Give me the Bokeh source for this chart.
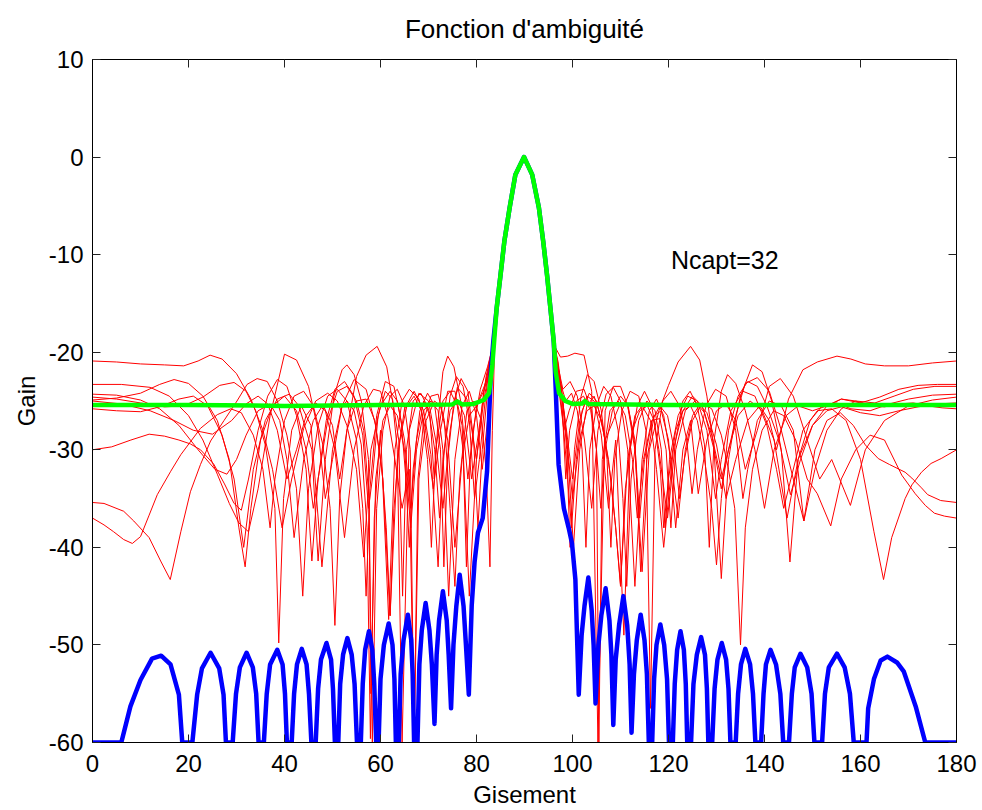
from bokeh.plotting import figure
from bokeh.models import Range1d, LinearAxis, FixedTicker, Label, CustomJSTickFormatter, Title
from bokeh.embed import file_html
from bokeh.resources import INLINE

# ---------------- texts & ticks ----------------
title_text = "Fonction d'ambiguité"
x_label = "Gisement"
y_label = "Gain"
ncapt_text = "Ncapt=32"
ncapt_x = 120.5
ncapt_y = -10.5
x_ticks = [0, 20, 40, 60, 80, 100, 120, 140, 160, 180]
y_ticks = [-60, -50, -40, -30, -20, -10, 0, 10]

# ---------------- main lobe (shared) ----------------
main_lobe = [(84.2, -15.5), (85.0, -12.1), (85.8, -8.65), (86.9, -5.2), (88.1, -1.8), (89.9, 0.0),
             (91.6, -1.8), (93.0, -5.2), (93.9, -8.65), (94.7, -12.1), (95.4, -15.5)]

# ---------------- blue: reference pattern ----------------
blue_left = [(0, -60), (6, -60), (7.9, -56.3), (10, -53.6), (12.4, -51.4), (14.3, -51.1), (16.25, -52), (18, -55.1), (18.7, -60), (20.8, -60),
             (21.8, -55.1), (22.8, -52.4), (24.6, -50.8), (26.4, -52.4), (27.3, -55.1), (27.8, -60), (29.2, -60),
             (29.9, -55), (30.7, -52.3), (32.1, -50.8), (33.4, -52.3), (34.1, -55), (34.6, -60), (35.7, -60),
             (36.3, -55), (37, -52), (38.5, -50.5), (39.6, -52), (40.1, -55), (40.5, -60), (41.5, -60),
             (42, -55), (42.6, -52), (43.6, -50.4), (44.6, -52), (45.1, -55), (45.6, -60), (46.5, -60),
             (47, -54.5), (47.6, -51.5), (48.75, -49.8), (49.7, -51.5), (50.1, -54.5), (50.5, -60), (51.2, -60),
             (51.6, -54), (52.2, -51), (53.1, -49.3), (54, -51), (54.6, -54), (55.1, -60), (55.9, -60),
             (56.3, -54), (56.8, -50.5), (57.6, -48.6), (58.3, -50.5), (58.7, -54), (59.1, -60), (59.6, -60),
             (60, -53.5), (60.7, -50), (61.7, -47.8), (62.5, -50), (62.9, -53.5), (63.2, -60), (63.8, -60),
             (64.2, -53), (64.8, -49.5), (65.7, -46.9), (66.4, -49.5), (66.7, -53), (67, -60), (67.7, -60),
             (68.1, -52), (68.6, -48.5), (69.4, -45.7), (70.2, -48.5), (70.7, -52), (71.25, -58.1),
             (71.7, -51), (72.2, -47.5), (73, -44.5), (73.8, -47.5), (74.2, -51), (74.7, -56.5),
             (75.2, -50), (75.8, -46), (76.5, -42.8), (77.3, -46), (77.8, -50), (78.4, -55.1),
             (79.0, -46), (79.6, -41.5), (80.3, -38.5), (81.3, -37), (82.2, -32.2), (82.6, -27), (83.0, -22), (83.5, -18.9)]
blue_right = [(96.1, -19), (96.5, -23.7), (97.1, -31.5), (98.2, -36), (99.2, -38), (99.9, -39.6), (100.6, -43.3), (101.3, -55.1),
              (101.9, -49), (102.5, -46), (103.3, -43.1), (104, -46.5), (104.4, -50), (104.8, -56),
              (105.4, -50), (106, -47), (106.9, -44.2), (107.7, -47.5), (108.1, -51), (108.5, -58.2),
              (109, -51.5), (109.7, -48), (110.6, -45), (111.4, -48), (111.9, -52), (112.3, -59),
              (112.8, -53), (113.4, -49.5), (114.2, -46.9), (115, -49.5), (115.5, -53), (115.9, -60), (116.6, -60),
              (117, -53.5), (117.5, -50), (118.3, -47.9), (119.1, -50), (119.7, -53.5), (120.1, -60), (120.9, -60),
              (121.3, -54), (121.8, -50.5), (122.5, -48.6), (123.2, -50.5), (123.6, -54), (123.9, -60), (124.7, -60),
              (125.2, -54), (125.9, -51), (126.8, -49.2), (127.6, -51), (128, -54.5), (128.3, -60), (129.1, -60),
              (129.6, -54.5), (130.2, -51.5), (131.1, -49.8), (132, -51.5), (132.5, -54.5), (132.9, -60), (134, -60),
              (134.5, -55), (135.1, -52), (136, -50.4), (137, -52), (137.6, -55), (138.1, -60), (139.3, -60),
              (139.8, -55), (140.3, -52), (141.25, -50.5), (142.4, -52), (143.3, -55), (143.9, -60), (145.1, -60),
              (145.7, -55), (146.3, -52.3), (147.5, -50.9), (148.9, -52.3), (149.8, -55), (150.4, -60), (152, -60),
              (152.6, -55), (153.4, -52.3), (155.1, -50.9), (156.7, -52.3), (157.8, -55), (158.6, -60), (161.25, -60),
              (161.6, -56.5), (162.8, -53.5), (164.2, -51.6), (165.6, -51.2), (167.6, -51.8), (169, -52.7), (171.5, -56.3),
              (173.5, -60), (180, -60)]

# ---------------- green: mean pattern ----------------
green_left = [(0, -25.4), (20, -25.4), (40, -25.5), (60, -25.4), (75, -25.35), (76, -25.05), (77, -25.35),
              (79.4, -25.3), (81.5, -24.9), (82.6, -24.2), (83.3, -21.3)]
green_right = [(96.1, -18.9), (96.5, -22), (97.2, -24.2), (98.5, -25), (100, -25.3), (102, -25.25), (102.6, -25.0),
               (103.2, -25.3), (120, -25.4), (150, -25.4), (180, -25.4)]

# ---------------- red: individual realisations ----------------
red1_left = [(0, -20.9), (5, -21.0), (10, -21.2), (15, -21.3), (19, -21.4), (22, -20.9), (24.5, -20.3), (27, -20.7), (30, -22.2),
             (33, -24.8), (35.5, -28), (37.5, -32), (39.5, -38), (41.5, -33), (44, -27.8), (46.5, -25), (49, -24.2), (51, -25),
             (53, -27.5), (55, -32), (56.5, -41), (58, -30), (60, -25.5), (62, -24), (63.5, -25), (65, -29), (66.3, -36),
             (67.5, -29), (69, -25), (70.3, -26.5), (71.2, -33), (72, -27), (73, -22), (74, -20.4), (75.3, -21.5), (76.7, -25),
             (78.2, -33), (79.3, -28), (80.8, -23.8), (82.3, -21.5), (83.5, -19.2)]
red1_right = [(96.2, -19.2), (97, -21.5), (98, -23.8), (99.5, -23), (101, -24.5), (102.5, -29), (104, -36), (105.3, -28),
              (107, -24.3), (108.5, -23.6), (110, -25), (111.5, -30), (113, -44), (114.5, -31), (116, -26), (117.5, -24.8),
              (119, -26.5), (120.5, -31), (122, -37), (123.5, -30), (125, -26.5), (126.5, -25.4), (128, -26.2), (130, -29.5),
              (132, -35), (134, -31), (136.5, -27), (139, -25.5), (141, -27), (142.5, -30), (145, -24.8), (148, -21.8),
              (151, -21), (155.1, -20.4), (158, -20.7), (161, -21.2), (165, -21.4), (170, -21.4), (175, -21.1), (180, -20.9)]

red2_left = [(0, -23.3), (6, -23.3), (12, -23.6), (16, -24.5), (20, -26.5), (23, -29), (26, -32.5), (28.5, -35.5), (30.5, -37.5),
             (32.5, -38.4), (34.5, -34), (37, -26.5), (40, -20.2), (42.5, -20.8), (45, -23.5), (47, -28), (48.5, -35), (50, -31),
             (52, -25.5), (54.5, -22.8), (57, -23.8), (59, -27.5), (60.5, -33), (62, -47), (63.5, -31), (65, -25.8), (67, -24),
             (69, -26), (70.5, -30.5), (72, -42), (73, -31), (74.5, -26), (76, -24.8), (77.5, -26.5), (79, -33), (80.5, -28),
             (82, -22.5), (83.5, -19)]
red2_right = [(96.2, -19), (97.2, -22.5), (98.5, -27), (100, -33), (101.5, -27), (103, -24.5), (104.5, -25), (106, -28.5),
              (107.5, -36), (109, -29), (110.7, -49), (112, -30), (113.5, -25.5), (115, -24), (116.5, -25.5), (118, -30),
              (119.8, -37), (121.5, -29), (123, -25), (124.5, -24), (126, -25.5), (127.5, -29.5), (128.5, -40), (129.5, -29),
              (131, -24), (132.3, -22.3), (134, -23.2), (136, -26), (138, -30), (140, -36), (142, -30), (144.5, -26.5),
              (147, -25.5), (150, -26), (153, -25.5), (156, -24.8), (160, -25.2), (164, -24.6), (168, -23.8), (172, -23.4),
              (176, -23.3), (180, -23.3)]

red3_left = [(0, -24.3), (5, -24.4), (10, -24.9), (14, -25.8), (18, -27.5), (22, -30), (25.5, -32), (28, -32.5), (30, -31),
             (32, -28.5), (34.5, -26), (37, -25.3), (39, -27), (40.5, -31), (42, -39), (44, -31), (46, -27), (48, -25.4),
             (50, -27.5), (51.5, -33), (53, -28), (55, -22.5), (57, -20.3), (59.3, -19.4), (61.3, -21.5), (62.5, -25),
             (63.5, -30), (64.5, -60), (66, -28), (68, -24.2), (70, -25), (71.5, -29), (73, -36), (74.5, -28), (76, -23.6),
             (78, -24.8), (80, -31), (81.5, -24), (83.5, -19.2)]
red3_right = [(96.2, -19.3), (97.5, -20.5), (99, -20.4), (100.5, -20.1), (102.4, -20.3), (104, -24), (105.3, -60), (106.8, -26),
              (108.5, -23.5), (110, -23.5), (111.5, -25.5), (113, -30), (114.5, -42.5), (116, -30), (118, -26), (120, -23.4),
              (122, -21), (124.6, -19.4), (126.5, -20.8), (128, -24.5), (129.5, -30), (131, -43.2), (132.5, -31), (134, -26.5),
              (136, -23.2), (138.5, -22.6), (141, -24), (143.5, -28), (146, -33), (148.2, -37.3), (150.5, -32), (153, -28),
              (156, -25.8), (159, -25), (163, -25.2), (167, -24.5), (171, -23.8), (175.5, -23.5), (180, -23.5)]

red4_left = [(0, -24.6), (5, -24.8), (10, -25.2), (15, -25.6), (19, -25.5), (23, -24.6), (26.5, -23.4), (29.5, -23.1), (32, -24),
             (34, -26), (36, -29.5), (38, -36), (38.8, -49.8), (39.8, -35), (41.5, -28), (43.5, -25.5), (45.5, -27.5),
             (47.8, -42), (50, -30), (52, -25.5), (53, -25), (54.5, -26), (56, -29.5), (57.2, -38), (57.9, -59.6), (58.7, -37),
             (60, -28), (61.7, -47.4), (63, -30), (64.5, -25), (66, -23.8), (68, -24.8), (69.4, -28), (71, -34), (72.5, -28),
             (74, -24), (75.5, -24), (77, -27.5), (78.5, -45), (80, -31), (81.5, -25), (83.5, -19.3)]
red4_right = [(96.2, -19.3), (97.3, -22.5), (98.5, -27.5), (100, -35), (101.5, -29), (103, -26), (104.5, -25.5), (106, -27),
              (107.5, -31), (109, -38), (110, -43.8), (111.5, -31), (113, -26.5), (114.5, -25.5), (116.25, -27), (117.5, -32),
              (119, -40), (121, -30), (123, -26), (125, -24.5), (127, -25.5), (129, -28.5), (131, -33), (133, -29),
              (135, -24.5), (137.5, -21.3), (139.5, -22), (141.5, -25), (143.5, -30), (145.3, -41.5), (147, -31),
              (149.5, -27), (152, -25.5), (155, -25.2), (158, -25.8), (162, -26), (166, -25.3), (170, -24.8), (175, -24.4),
              (180, -24.3)]

red5_left = [(0, -25.0), (6, -25.3), (12, -26), (17, -27), (21, -28), (25, -28.4), (29, -27), (32, -25.3), (34.5, -24.5),
             (36.5, -25.3), (38.5, -28), (40.5, -33), (42.5, -30), (44.5, -26.5), (46.5, -25.2), (48.5, -26), (50.5, -30),
             (52.5, -39), (54.5, -30), (56.5, -25.5), (58.5, -23.8), (60, -24), (61.5, -26.5), (63, -31), (64.5, -36),
             (66, -32), (67, -60), (68, -33), (69.5, -27), (71.25, -25), (72.5, -25.5), (74, -29), (75.5, -40), (77, -31),
             (78.5, -26.5), (80, -25.5), (82, -23), (83.5, -19.2)]
red5_right = [(96.2, -19.3), (97, -21.5), (98, -25), (99, -30), (100.2, -40), (101.5, -30), (103, -25.5), (104.5, -24.5),
              (105.5, -26), (106.8, -29), (108.5, -27), (110, -25.2), (111.5, -25.5), (113, -29), (114.2, -42.5), (115.5, -31),
              (117, -26.5), (118.5, -26), (120, -29), (121.5, -38), (123, -30), (124.6, -27), (126.2, -34.5), (128, -29),
              (130, -26), (132, -25.3), (134, -27), (136, -32), (138.5, -28), (141, -23.5), (143.3, -22.7), (146, -24.5),
              (148.9, -29), (151.5, -33), (154, -31), (157.9, -35.7), (161, -30), (165, -27), (170, -25.5), (175, -24.9),
              (180, -24.6)]

red6_left = [(0, -25.8), (5, -26), (10, -26.1), (14, -25.6), (18, -24.8), (21, -24.5), (24, -25.5), (27, -28.5), (29.5, -33),
             (31.5, -40), (33.5, -32), (36, -27), (38.5, -24.8), (41, -24.3), (43, -25.5), (45.7, -30), (47, -41.4),
             (48.5, -31), (50.3, -24.5), (52, -21.8), (53, -21.3), (54.5, -22.3), (56, -25), (57.5, -31), (58, -55),
             (59, -33), (60.5, -27), (62, -25.5), (63.5, -26.5), (65, -30), (66.3, -38), (67.5, -30), (69, -26), (70.5, -25),
             (72, -26), (73, -30), (74.2, -45), (75.5, -31), (77, -25.5), (78.5, -24), (80, -26.5), (81.2, -32), (82.3, -27),
             (83.5, -19.2)]
red6_right = [(96.2, -19.2), (97.2, -24), (98.2, -28), (99.3, -26), (100.8, -24), (102.4, -23.8), (104, -26), (105, -30),
              (105.5, -60), (106.2, -31), (107.8, -26), (109.5, -25), (111, -26.5), (112.5, -31), (113.5, -37), (114.8, -31),
              (116.5, -27), (118.2, -26.8), (119.5, -30), (120.5, -38), (121.5, -30), (123.5, -26), (125.5, -25),
              (127.5, -26.2), (129.5, -30), (131, -34), (132.5, -30), (134.5, -26.5), (137, -25), (139.5, -26), (142, -29),
              (144.7, -37), (147, -31), (150, -27.5), (153, -26), (156, -25.6), (160, -26.2), (164, -26.5), (168, -26),
              (172, -25.6), (176, -25.3), (180, -25.2)]

red7_left = [(0, -30), (4, -29.7), (8, -29), (11.8, -28.4), (15, -28.6), (18, -29), (20.4, -29.4), (22.5, -30), (25.3, -31.5),
             (27.5, -33.5), (29.5, -35.5), (31, -36.2), (32.5, -33), (34.5, -28), (36.5, -24.5), (38.5, -22.8), (40.5, -23.5),
             (42.5, -26.5), (44.5, -32), (45.7, -41.4), (47, -33), (49, -27), (51, -24), (53, -23.5), (55, -25), (56.5, -28),
             (57.6, -35), (58.3, -60), (59.2, -36), (60.5, -28), (62, -24.5), (63.5, -23.8), (65, -25.5), (66.2, -30),
             (67, -60), (67.8, -33), (69, -27), (70.5, -24.5), (72, -24.3), (73.3, -27), (74.5, -36), (75.5, -44), (76.5, -33),
             (78, -26), (79.5, -25), (81, -27), (82, -32), (82.8, -42), (83.3, -28), (83.8, -19)]
red7_right = [(96.2, -19.2), (97, -22), (98, -27), (99, -33), (99.8, -38), (100.8, -31), (102, -26), (103.5, -24.2), (105, -25),
              (106.5, -28), (108, -33), (109, -38), (110, -44), (111, -34), (112.5, -28), (114, -26), (115.6, -25.5), (117, -27),
              (118.3, -32), (119, -38), (120, -33), (121.5, -28), (123, -26), (124.6, -25.5), (126, -27), (127.5, -31),
              (129, -36), (130, -41.8), (131, -35), (132.5, -28), (134.5, -24.5), (136.5, -23), (138.5, -23.5), (140.5, -25.5),
              (143, -29), (145.4, -34.6), (147.5, -31), (150, -27.5), (153, -25.5), (156, -24.8), (159, -25), (162, -25.5),
              (165, -25.6), (168, -25.3), (171, -25.2), (174, -25.5), (177, -25.7), (180, -25.8)]

red8_left = [(0, -35.4), (2.4, -35.5), (6.5, -36.3), (8.6, -37.3), (11.8, -39), (14.2, -41.4), (16.2, -43.3), (18.4, -38.4),
             (20.4, -34.3), (22.5, -31.5), (24.6, -29.1), (27.4, -27), (30.1, -25), (32.2, -23.3), (34.3, -22.7), (36.4, -23),
             (38.5, -25), (40.5, -28.5), (42.5, -34), (43.8, -45), (45, -34), (47, -27.5), (49, -24.5), (51, -23.8), (53, -25),
             (55, -29), (56.3, -36), (57, -45), (57.8, -34), (59.2, -26.5), (61, -23), (62.8, -23.5), (64.3, -27), (65.3, -33),
             (66, -40), (66.8, -32), (68.2, -26), (69.8, -24.2), (71.3, -25.5), (72.5, -30), (73.2, -42), (74, -31), (75.3, -25),
             (76.8, -22.7), (78.2, -24), (79.4, -29), (80.3, -38), (81.2, -30), (82.3, -24), (83.5, -19.2)]
red8_right = [(96.3, -19.3), (97.4, -23), (98.6, -25), (99.8, -24.2), (101, -26), (102, -30), (102.8, -40), (103.6, -30),
              (105, -25.5), (106.5, -23.5), (108, -24.5), (109.5, -28), (110.5, -35), (111.3, -44), (112.2, -33), (113.8, -27),
              (115.5, -25), (117.2, -26), (118.5, -30), (119.3, -38), (120.2, -31), (122, -26.5), (124, -24.5), (126, -25),
              (128, -28), (129.8, -35), (131, -31), (133, -26), (135.5, -24), (138, -24.5), (140.5, -27.5), (142.5, -32),
              (144, -36), (145.5, -33), (148, -28), (151, -26), (154, -25.8), (157, -27), (160, -31), (162.8, -38.4),
              (164.8, -43.3), (166.5, -39), (169.3, -35), (170.7, -33.6), (172.7, -32.3), (174.7, -31.4), (176.8, -30.9),
              (180, -30)]

red9_left = [(0, -37), (2.4, -37.7), (4.4, -38.4), (6.5, -39.2), (8.3, -39.6), (10, -38.9), (11.8, -36.7), (13.5, -34.6),
             (16.3, -32.2), (18.4, -30.5), (22.5, -27.8), (26, -26.4), (28.8, -25.8), (31, -26.2), (33.5, -28.5), (35.5, -32),
             (37, -38), (38, -33), (40, -27), (42, -24.5), (44, -24), (46, -25.5), (48, -29.5), (49.5, -36), (50.5, -48),
             (51.5, -35), (53, -28), (55, -25), (57, -24.8), (58.8, -27), (60.3, -32), (61.2, -38), (62, -47), (62.8, -36),
             (64, -29), (65.5, -25.5), (67, -24.5), (68.5, -26), (69.8, -31), (70.6, -40), (71.5, -30), (73, -25), (74.5, -24),
             (76, -25.5), (77.2, -30), (77.9, -42), (78.7, -31), (80, -25.5), (81.5, -24), (82.7, -22), (83.6, -19.1)]
red9_right = [(96.2, -19.2), (97, -21), (97.8, -24), (98.8, -30), (99.5, -40), (100.4, -30), (101.8, -24.5), (103.1, -22.3),
              (104.5, -23), (106, -26), (107.2, -31), (108, -40), (108.8, -31), (110.3, -26), (112, -24), (113.8, -24.5),
              (115.3, -28), (116.25, -56.5), (117.2, -30), (118.8, -25), (120.5, -24), (122.3, -25.5), (123.8, -29),
              (124.9, -34.5), (126, -30), (127.8, -25.5), (129.8, -23.8), (132, -24.5), (134, -28), (135.5, -35), (136.5, -32),
              (138.5, -27), (141, -25), (143.5, -25.5), (146, -28), (148.2, -37.3), (150.5, -30), (153, -27), (155.8, -26.2),
              (158.5, -27.5), (161, -29.5), (163.7, -30.9), (166, -31.5), (169.3, -32.3), (170.7, -32.9), (172.7, -33.9),
              (174, -34.6), (176.7, -35.2), (180, -35.4)]

red10_left = [(0, -24.9), (5, -24.7), (10, -24.2), (14, -23.3), (17, -22.8), (20, -23.2), (23, -24.5), (26, -27), (28.5, -31),
              (30.5, -38), (31.8, -42), (33, -36), (35, -29), (37.5, -25.5), (40, -24.5), (42.5, -26), (44.5, -30), (46, -36),
              (47, -33), (48.7, -27), (50.5, -23.8), (52.5, -23), (54.5, -24.5), (56.3, -28.5), (57.5, -36), (58.3, -33),
              (59.5, -26.5), (61, -24), (62.5, -24.8), (63.8, -29), (64.6, -45), (65.4, -30), (66.8, -25), (68.4, -24.2),
              (70, -25.8), (71.3, -30), (72.3, -37), (73.3, -30), (74.5, -24.5), (75.8, -22.5), (77.2, -23.5), (78.5, -27),
              (79.6, -35), (80.6, -31), (81.8, -25), (82.8, -21), (83.6, -19)]
red10_right = [(96.1, -19), (96.9, -21), (97.8, -25), (98.6, -33), (99.4, -28), (100.8, -25), (102.3, -24.5), (103.8, -26),
               (105, -30), (105.9, -36), (106.8, -30), (108.3, -26), (110, -24.5), (111.6, -25.5), (113, -29.5), (114, -37),
               (115, -31), (116.6, -27), (118.2, -25.5), (119.8, -26.5), (121.2, -30), (122.3, -35), (123.3, -31), (125, -27),
               (127, -25.2), (129, -25.8), (131, -28.5), (132.5, -32), (133.8, -36), (135, -50), (136, -38), (137.5, -32),
               (139.5, -28), (141.9, -26), (144, -26.5), (146.5, -29), (148.9, -33), (151, -34.5), (153.8, -37.8), (156, -33),
               (159, -30), (162, -28.5), (165, -29), (168.6, -32.6), (171.4, -34.5), (173.5, -35.7), (175.4, -36.5),
               (177.5, -36.8), (180, -37)]

red_curves = [(red1_left, red1_right), (red2_left, red2_right), (red3_left, red3_right), (red4_left, red4_right),
              (red5_left, red5_right), (red6_left, red6_right), (red7_left, red7_right), (red8_left, red8_right),
              (red9_left, red9_right), (red10_left, red10_right)]

FONT = "Liberation Sans"


def xy(*parts):
    pts = [pt for part in parts for pt in part]
    return [pt[0] for pt in pts], [pt[1] for pt in pts]


p = figure(frame_width=864, frame_height=683,
           x_range=Range1d(0, 180), y_range=Range1d(-60, 10),
           output_backend="svg", toolbar_location=None,
           min_border_left=92, min_border_right=26, min_border_top=58, min_border_bottom=69,
           background_fill_color="white", border_fill_color="white")

p.title = None

p.grid.visible = False
p.outline_line_color = "black"
p.outline_line_width = 1

int_fmt = CustomJSTickFormatter(code="return tick.toFixed(0);")
for ax in (p.xaxis[0], p.yaxis[0]):
    ax.formatter = int_fmt
    ax.major_label_text_font = FONT
    ax.major_label_text_font_size = "24px"
    ax.major_label_text_color = "black"
    ax.axis_label_text_font = FONT
    ax.axis_label_text_font_size = "24px"
    ax.axis_label_text_font_style = "normal"
    ax.axis_label_text_color = "black"
    ax.major_tick_in = 8
    ax.major_tick_out = 0
    ax.minor_tick_line_color = None
    ax.axis_line_color = "black"
    ax.major_tick_line_color = "#222222"

p.xaxis[0].ticker = FixedTicker(ticks=x_ticks)
p.yaxis[0].ticker = FixedTicker(ticks=y_ticks)
p.xaxis[0].axis_label = x_label
p.yaxis[0].axis_label = y_label
p.xaxis[0].major_label_standoff = 12
p.xaxis[0].axis_label_standoff = 6
p.yaxis[0].major_label_standoff = 9
p.yaxis[0].axis_label_standoff = 6

blank = CustomJSTickFormatter(code="return ''")
top_axis = LinearAxis(ticker=FixedTicker(ticks=x_ticks), formatter=blank, major_tick_in=8, major_tick_out=0,
                      minor_tick_line_color=None, major_label_standoff=0, major_label_text_font_size="1px",
                      axis_line_color="black", major_tick_line_color="#222222")
right_axis = LinearAxis(ticker=FixedTicker(ticks=y_ticks), formatter=blank, major_tick_in=8, major_tick_out=0,
                        minor_tick_line_color=None, major_label_standoff=0, major_label_text_font_size="1px",
                        axis_line_color="black", major_tick_line_color="#222222")
p.add_layout(top_axis, "above")
p.add_layout(right_axis, "right")
p.add_layout(Title(text=title_text, align="center", vertical_align="top", text_font=FONT, text_font_size="26px",
                   text_font_style="normal", text_color="black", standoff=27), "above")

for left, right in red_curves:
    xs, ys = xy(left, main_lobe, right)
    p.line(xs, ys, line_color="#FF0000", line_width=1, line_join="round")

bx, by = xy(blue_left, main_lobe, blue_right)
p.line(bx, by, line_color="#0000FF", line_width=4.5, line_join="round")

gx, gy = xy(green_left, main_lobe, green_right)
p.line(gx, gy, line_color="#00FF00", line_width=4.5, line_join="round")

p.add_layout(Label(x=ncapt_x, y=ncapt_y, text=ncapt_text, text_font=FONT, text_font_size="25px",
                   text_color="black", text_baseline="alphabetic", text_align="left"))

open("out.html", "w").write(file_html(p, INLINE))
